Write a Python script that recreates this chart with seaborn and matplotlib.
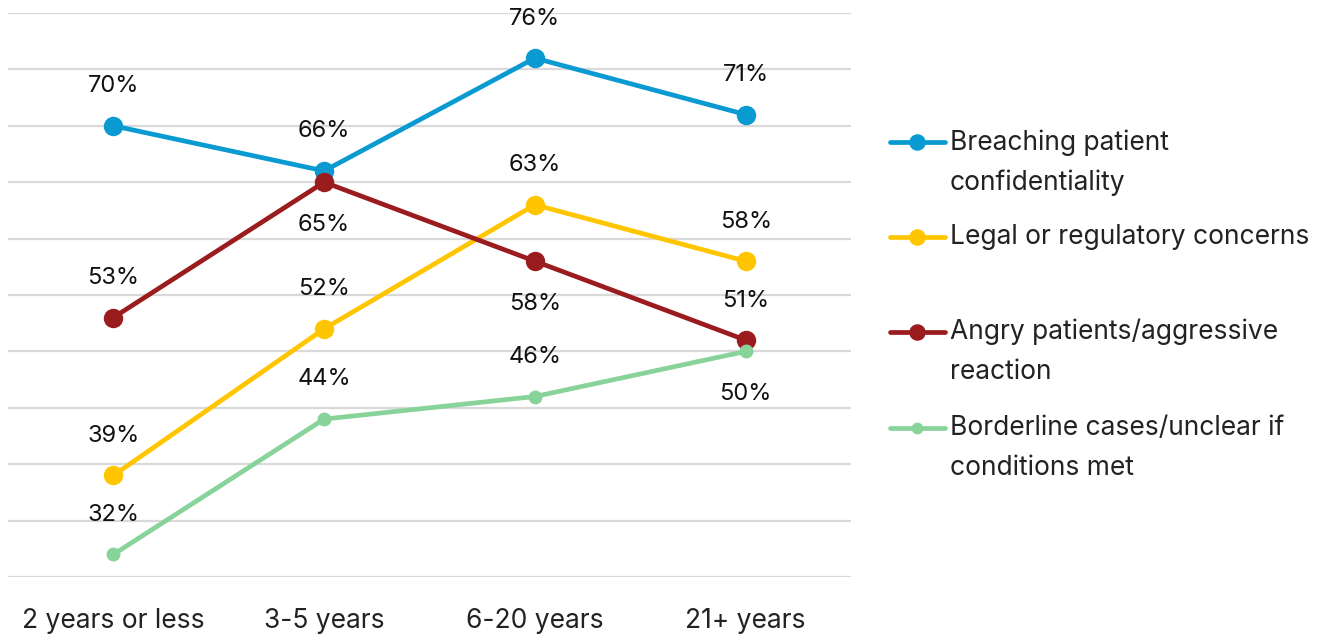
import matplotlib
matplotlib.use("Agg")
import matplotlib.pyplot as plt
from matplotlib.lines import Line2D
import numpy as np
import pandas as pd
import seaborn as sns

# Share of respondents by years of experience
categories = ["2 years or less", "3-5 years", "6-20 years", "21+ years"]
series_names = [
    "Breaching patient\nconfidentiality",
    "Legal or regulatory concerns",
    "Angry patients/aggressive\nreaction",
    "Borderline cases/unclear if\nconditions met",
]
breaching = [70, 66, 76, 71]
legal = [39, 52, 63, 58]
angry = [53, 65, 58, 51]
borderline = [32, 44, 46, 50]

values = [breaching, legal, angry, borderline]
colors = ["#0A9AD2", "#FFC600", "#9B1C1F", "#88D39A"]
marker_sizes = [14, 14, 14, 10]
# label placement per point: +1 above, -1 below
label_side = [
    [1, 1, 1, 1],
    [1, 1, 1, 1],
    [1, -1, -1, 1],
    [1, 1, 1, -1],
]

sns.set_theme(style="white")
plt.rcParams["font.family"] = ["Inter", "DejaVu Sans"]

W, H = 1341, 637
fig = plt.figure(figsize=(W / 100, H / 100), dpi=100)
ax = fig.add_axes([8 / W, 1 - 577 / H, (851 - 8) / W, (577 - 13) / H])

for name, vals, col, ms in zip(series_names, values, colors, marker_sizes):
    df = pd.DataFrame({"cat": categories, "val": vals})
    sns.lineplot(data=df, x="cat", y="val", ax=ax, color=col, lw=3.4,
                 marker="o", markersize=ms, markeredgewidth=0,
                 sort=False, legend=False)

for vals, sides in zip(values, label_side):
    for i, (v, s) in enumerate(zip(vals, sides)):
        off = 28.5 if s > 0 else -31
        ax.annotate(f"{v}%", (i, v), xytext=(0, off), textcoords="offset points",
                    ha="center", va="center", fontsize=17, color="#111111")

ax.set_xlim(-0.5, 3.5)
ax.set_ylim(30, 80)
ax.set_yticks(np.arange(30, 81, 5))
ax.yaxis.grid(True, color="#d9d9d9", lw=1.6)
ax.set_axisbelow(True)
ax.tick_params(axis="y", left=False, labelleft=False)
ax.tick_params(axis="x", bottom=False, pad=16, labelsize=19, labelcolor="#222222")
ax.set_xlabel("")
ax.set_ylabel("")
for sp in ax.spines.values():
    sp.set_visible(False)

# Legend drawn as figure artists, one slot per series
slot_y = [142, 237, 332, 428]
for name, col, ms, yp in zip(series_names, colors, marker_sizes, slot_y):
    fy = 1 - yp / H
    fig.add_artist(Line2D([890 / W, 945 / W], [fy, fy], transform=fig.transFigure,
                          color=col, lw=3.4, solid_capstyle="round"))
    fig.add_artist(Line2D([917 / W], [fy], transform=fig.transFigure, color=col,
                          marker="o", markersize=ms * 0.85, markeredgewidth=0))
    fig.text(950 / W, 1 - (yp - 13) / H, name, ha="left", va="top",
             fontsize=19, color="#222222", linespacing=1.7)

fig.savefig("out.png", dpi=100, facecolor="white")
